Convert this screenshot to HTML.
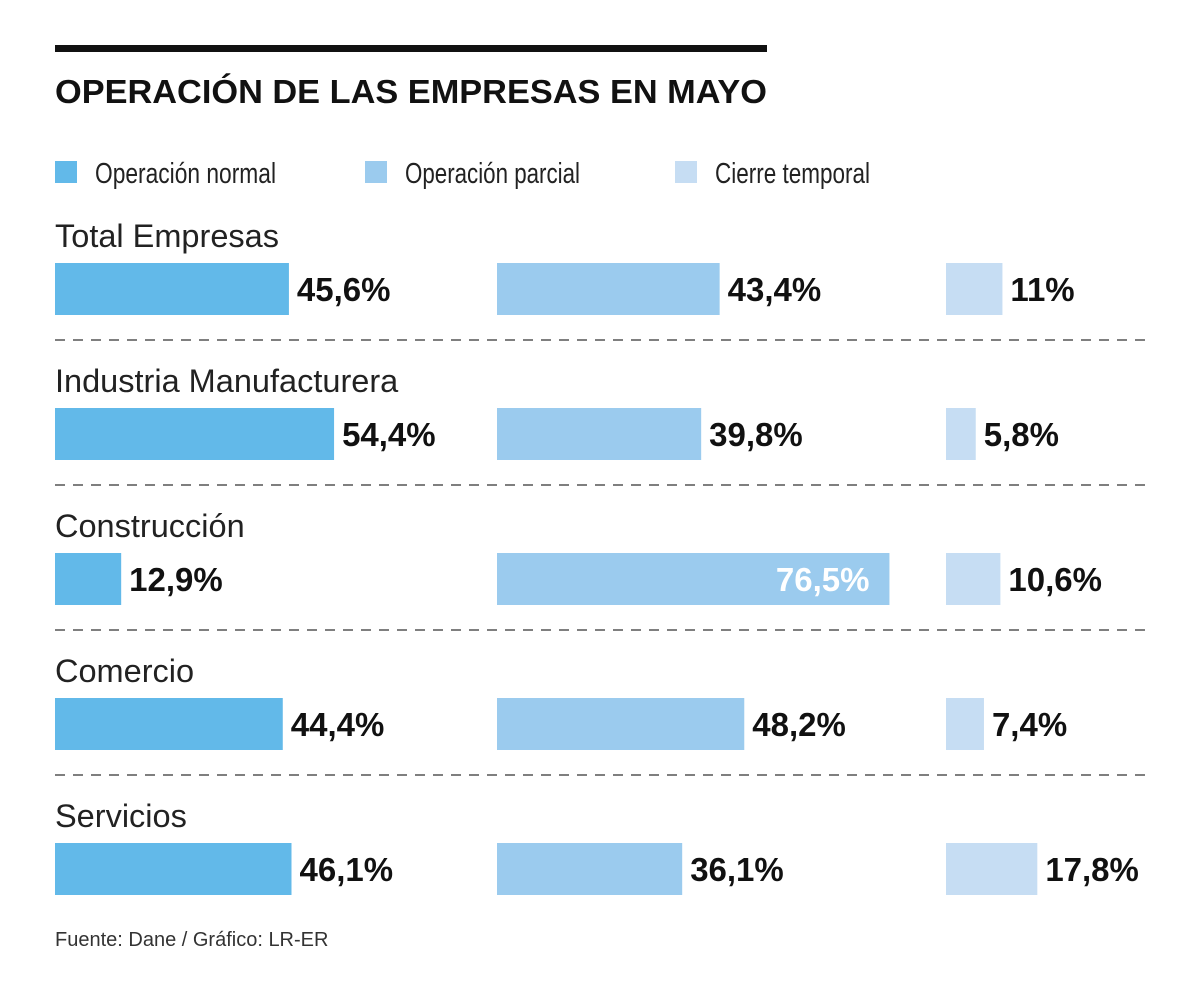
<!DOCTYPE html>
<html><head><meta charset="utf-8"><style>
body{margin:0;background:#fff;width:1200px;height:991px;overflow:hidden}
svg{display:block}
.leg{font-family:"Liberation Sans Narrow","Liberation Sans",sans-serif;font-size:29px;fill:#222}
.cat{font-family:"Liberation Sans",sans-serif;font-size:32.5px;fill:#222}
.val{font-family:"Liberation Sans",sans-serif;font-size:33px;font-weight:bold;fill:#111}
</style></head><body>
<svg id="chart" width="1200" height="991">
<rect x="55" y="45" width="712" height="7" fill="#111"/>
<text x="55" y="103" font-family="Liberation Sans,sans-serif" font-size="33" font-weight="bold" fill="#111" textLength="712" lengthAdjust="spacingAndGlyphs">OPERACIÓN DE LAS EMPRESAS EN MAYO</text>
<g>
<rect x="55" y="161" width="22" height="22" fill="#62b9e9"/>
<text class="leg" x="95" y="183" textLength="181" lengthAdjust="spacingAndGlyphs">Operación normal</text>
<rect x="365" y="161" width="22" height="22" fill="#9bcbee"/>
<text class="leg" x="405" y="183" textLength="175" lengthAdjust="spacingAndGlyphs">Operación parcial</text>
<rect x="675" y="161" width="22" height="22" fill="#c6ddf3"/>
<text class="leg" x="715" y="183" textLength="155" lengthAdjust="spacingAndGlyphs">Cierre temporal</text>
</g>
<text x="55" y="946" font-family="Liberation Sans,sans-serif" font-size="20" fill="#333">Fuente: Dane / Gráfico: LR-ER</text>
</svg>
<script>
const categories=["Total Empresas","Industria Manufacturera","Construcción","Comercio","Servicios"];
const normal=[45.6,54.4,12.9,44.4,46.1];
const parcial=[43.4,39.8,76.5,48.2,36.1];
const cierre=[11,5.8,10.6,7.4,17.8];
const labelsNormal=["45,6%","54,4%","12,9%","44,4%","46,1%"];
const labelsParcial=["43,4%","39,8%","76,5%","48,2%","36,1%"];
const labelsCierre=["11%","5,8%","10,6%","7,4%","17,8%"];
const svg=document.getElementById('chart');
const NS="http://www.w3.org/2000/svg";
const pxPer=5.13;
const xScale=v=>v*pxPer;
const rowY=i=>263+i*145;
const series=[{d:normal,l:labelsNormal,x0:55,c:"#62b9e9",n:"normal"},{d:parcial,l:labelsParcial,x0:497,c:"#9bcbee",n:"parcial"},{d:cierre,l:labelsCierre,x0:946,c:"#c6ddf3",n:"cierre"}];
function mk(tag,attrs){const e=document.createElementNS(NS,tag);for(const k in attrs)e.setAttribute(k,attrs[k]);svg.appendChild(e);return e;}
categories.forEach((cat,i)=>{
  const y=rowY(i);
  const t=mk('text',{x:55,y:y-16,class:'cat'});t.textContent=cat;
  
  
  series.forEach(s=>{
    const w=xScale(s.d[i]);
    const r=mk('rect',{x:s.x0,y:y,width:w,height:52,fill:s.c});
    
    
    let lbl;
    if(w>300){lbl=mk('text',{x:s.x0+w-20,y:y+38,class:'val','text-anchor':'end',style:'fill:#fff'});}
    else{lbl=mk('text',{x:s.x0+w+8,y:y+38,class:'val'});}
    lbl.textContent=s.l[i];
    
    
  });
  if(i<categories.length-1){
    const ln=mk('line',{x1:55,x2:1147,y1:y+77,y2:y+77,stroke:'#555','stroke-width':1.5,'stroke-dasharray':'10,8'});
    
    
  }
});
</script>
</body></html>
